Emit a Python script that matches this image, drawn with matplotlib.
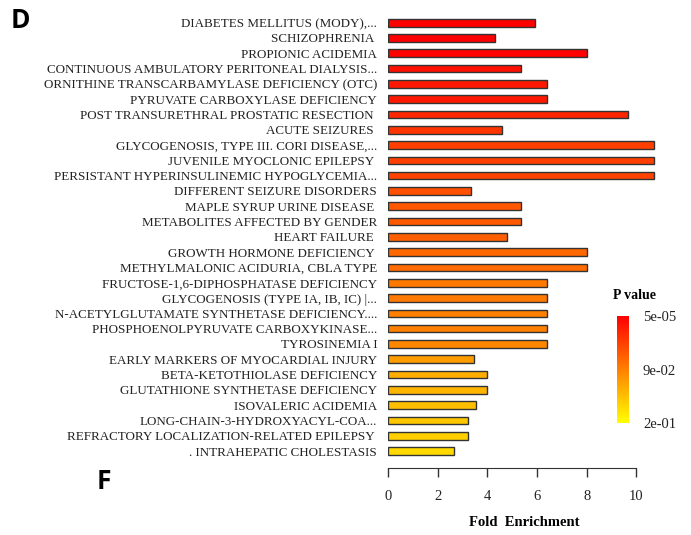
import matplotlib
matplotlib.use("Agg")
import matplotlib.pyplot as plt
from matplotlib.colors import LinearSegmentedColormap, Normalize
from matplotlib.cm import ScalarMappable

terms = [
    "DIABETES MELLITUS (MODY),...",
    "SCHIZOPHRENIA ",
    "PROPIONIC ACIDEMIA",
    "CONTINUOUS AMBULATORY PERITONEAL DIALYSIS...",
    "ORNITHINE TRANSCARBAMYLASE DEFICIENCY (OTC)",
    "PYRUVATE CARBOXYLASE DEFICIENCY",
    "POST TRANSURETHRAL PROSTATIC RESECTION ",
    "ACUTE SEIZURES ",
    "GLYCOGENOSIS, TYPE III. CORI DISEASE,...",
    "JUVENILE MYOCLONIC EPILEPSY ",
    "PERSISTANT HYPERINSULINEMIC HYPOGLYCEMIA...",
    "DIFFERENT SEIZURE DISORDERS",
    "MAPLE SYRUP URINE DISEASE ",
    "METABOLITES AFFECTED BY GENDER",
    "HEART FAILURE ",
    "GROWTH HORMONE DEFICIENCY ",
    "METHYLMALONIC ACIDURIA, CBLA TYPE",
    "FRUCTOSE-1,6-DIPHOSPHATASE DEFICIENCY",
    "GLYCOGENOSIS (TYPE IA, IB, IC) |...",
    "N-ACETYLGLUTAMATE SYNTHETASE DEFICIENCY....",
    "PHOSPHOENOLPYRUVATE CARBOXYKINASE...",
    "TYROSINEMIA I",
    "EARLY MARKERS OF MYOCARDIAL INJURY",
    "BETA-KETOTHIOLASE DEFICIENCY",
    "GLUTATHIONE SYNTHETASE DEFICIENCY",
    "ISOVALERIC ACIDEMIA",
    "LONG-CHAIN-3-HYDROXYACYL-COA...",
    "REFRACTORY LOCALIZATION-RELATED EPILEPSY ",
    ". INTRAHEPATIC CHOLESTASIS",
]

fold = [5.9, 4.3, 8.0, 5.35, 6.4, 6.4, 9.65, 4.6, 10.7, 10.7, 10.7, 3.33,
        5.35, 5.35, 4.8, 8.0, 8.0, 6.4, 6.4, 6.4, 6.4, 6.4, 3.45, 4.0, 4.0,
        3.55, 3.2, 3.2, 2.65]

pvals = [0.00005, 0.0002, 0.002, 0.012, 0.02, 0.02, 0.03, 0.042, 0.05, 0.05,
         0.052, 0.062, 0.068, 0.07, 0.075, 0.082, 0.084, 0.094, 0.096, 0.1,
         0.1, 0.106, 0.122, 0.136, 0.142, 0.15, 0.156, 0.162, 0.17]

p_min, p_max = 0.00005, 0.2
cbar_labels = ["5e-05", "9e-02", "2e-01"]
xticks = [0, 2, 4, 6, 8, 10]

cmap = LinearSegmentedColormap.from_list("pv", ["#ff0000", "#ff8000", "#ffff00"])
norm = Normalize(vmin=p_min, vmax=p_max)

serif = "Liberation Serif"

fig = plt.figure(figsize=(6.91, 5.35), dpi=100)
ax = fig.add_axes([0.5619, 0.1252, 0.3947, 0.861])

ypos = list(range(len(terms)))
ax.barh(ypos, fold, height=0.5, color=cmap(norm(pvals)),
        edgecolor="#333333", linewidth=1.0)

ax.set_ylim(len(terms) - 1 + 1.11, -1)
ax.set_xlim(0, 11)
ax.set_yticks(ypos)
ax.set_yticklabels(terms, fontfamily=serif, fontsize=9.4, color="#222222")
ax.tick_params(axis="y", length=0, pad=8)
ax.set_xticks(xticks)
ax.set_xticklabels([str(t) for t in xticks], fontfamily=serif, fontsize=10.5,
                   color="#222222")
ax.tick_params(axis="x", direction="out", length=6.5, width=1, pad=9,
               color="#333333")
for s in ["top", "right", "left"]:
    ax.spines[s].set_visible(False)
ax.spines["bottom"].set_bounds(0, 10)
ax.spines["bottom"].set_color("#333333")
ax.set_xlabel("Fold  Enrichment", fontfamily=serif, fontsize=10.5,
              fontweight="bold", labelpad=10)

cax = fig.add_axes([0.893, 0.2093, 0.0174, 0.2])
sm = ScalarMappable(norm=norm, cmap=cmap)
cb = fig.colorbar(sm, cax=cax)
cb.outline.set_visible(False)
cb.set_ticks([p_min, (p_min + p_max) / 2, p_max])
cb.set_ticklabels(cbar_labels)
cax.invert_yaxis()
cax.tick_params(length=0, pad=10)
for lab in cax.get_yticklabels():
    lab.set_fontfamily(serif)
    lab.set_fontsize(10.5)
    lab.set_color("#222222")
fig.text(0.918, 0.448, "P value", fontfamily=serif, fontsize=10,
         fontweight="bold", ha="center", va="center")

fig.text(0.016, 0.962, "D", fontfamily="Open Sans", fontsize=19,
         fontweight="bold", va="center")
fig.text(0.14, 0.1, "F", fontfamily="Open Sans", fontsize=19,
         fontweight="bold", va="center")

fig.savefig("out.png", dpi=100)
